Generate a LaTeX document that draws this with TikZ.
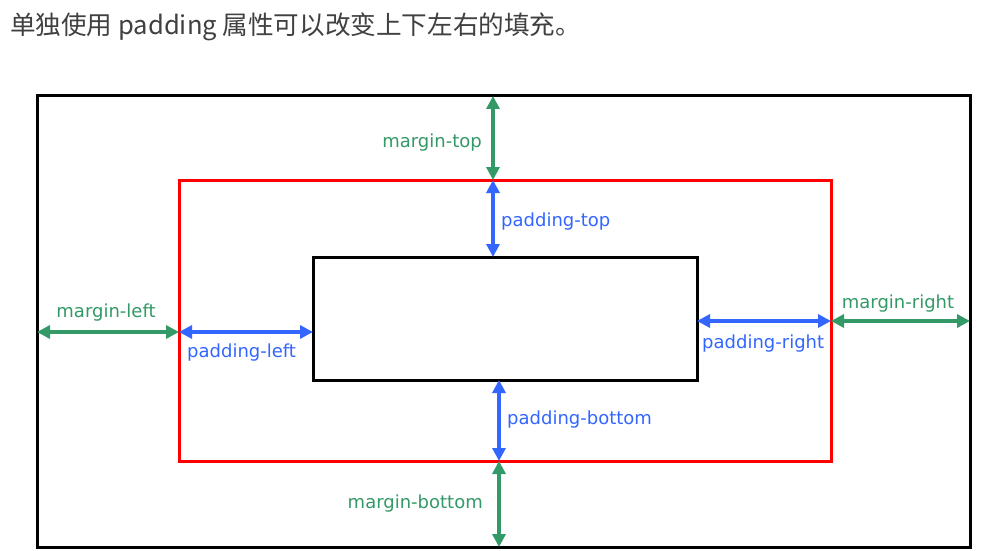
\documentclass[tikz,border=0pt]{standalone}
\usepackage{fontspec}
\setmainfont{DejaVu Sans}
\newfontfamily\cjk{Noto Sans CJK SC}
\usetikzlibrary{arrows.meta}
\definecolor{mgreen}{HTML}{339966}
\definecolor{pblue}{HTML}{3366FF}
\definecolor{titlegray}{HTML}{404040}
\definecolor{boxred}{HTML}{FF0000}
\tikzset{
  boxnode/.style={draw, rectangle, inner sep=0pt, outer sep=0pt, line width=3pt},
  garrow/.style={draw=mgreen, line width=3.5pt, {Triangle[length=13pt,width=13pt]}-{Triangle[length=13pt,width=13pt]}},
  barrow/.style={draw=pblue, line width=3.5pt, {Triangle[length=13pt,width=13pt]}-{Triangle[length=13pt,width=13pt]}},
  glabel/.style={text=mgreen, inner sep=0pt, font=\fontsize{18}{21}\selectfont},
  blabel/.style={text=pblue, inner sep=0pt, font=\fontsize{18}{21}\selectfont},
}
\begin{document}
\begin{tikzpicture}[x=1pt,y=-1pt]
\useasboundingbox[fill=white] (0,0) rectangle (989,551);
\node[anchor=west, inner sep=0pt, text=titlegray, font=\cjk\fontsize{25.6}{30}\selectfont] (title) at (10,27) {单独使用 padding 属性可以改变上下左右的填充。};
\node[boxnode, minimum width=933pt, minimum height=451pt] (outer) at (503.5,321.5) {};
\node[boxnode, draw=boxred, minimum width=652pt, minimum height=281pt] (red) at (505,320.5) {};
\node[boxnode, minimum width=384pt, minimum height=123pt] (inner) at (505,318.5) {};
% arrow lines
\coordinate (tx) at (493,0);
\coordinate (bx) at (499,0);
\coordinate (ly) at (0,332);
\coordinate (ry) at (0,321);
\draw[garrow] (outer.north -| tx) -- (red.north -| tx);
\draw[barrow] (red.north -| tx) -- (inner.north -| tx);
\draw[barrow] (inner.south -| bx) -- (red.south -| bx);
\draw[garrow] (red.south -| bx) -- (outer.south -| bx);
\draw[garrow] (outer.west |- ly) -- (red.west |- ly);
\draw[barrow] (red.west |- ly) -- (inner.west |- ly);
\draw[barrow] (inner.east |- ry) -- (red.east |- ry);
\draw[garrow] (red.east |- ry) -- (outer.east |- ry);
% labels
\node[glabel, anchor=east] (lmt) at (482,143) {margin-top};
\node[blabel, anchor=west] (lpt) at (501,222) {padding-top};
\node[glabel] (lml) at (106,313) {margin-left};
\node[blabel, anchor=west] (lpl) at (187,353) {padding-left};
\node[blabel, anchor=west] (lpr) at (702,344) {padding-right};
\node[glabel] (lmr) at (898,304) {margin-right};
\node[blabel, anchor=west] (lpb) at (507,420) {padding-bottom};
\node[glabel, anchor=east] (lmb) at (483,504) {margin-bottom};
\end{tikzpicture}
\end{document}
